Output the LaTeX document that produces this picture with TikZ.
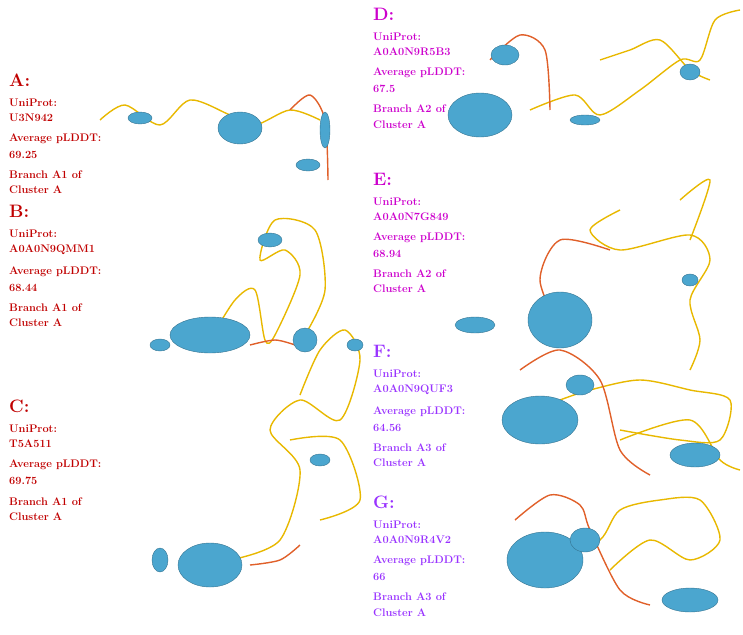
\documentclass[tikz,border=0pt]{standalone}
\usepackage{tikz}
\usetikzlibrary{positioning}
\definecolor{redlab}{HTML}{C00000}
\definecolor{maglab}{HTML}{CC00CC}
\definecolor{purlab}{HTML}{9933FF}
\definecolor{helix}{HTML}{4BA6CF}
\definecolor{loopc}{HTML}{E8B800}
\definecolor{hot}{HTML}{E0602A}
\tikzset{
  letter/.style={anchor=west, font=\bfseries\fontsize{18}{19}\selectfont, inner sep=0pt},
  info/.style={font=\bfseries\fontsize{11}{12}\selectfont, inner sep=0pt, below=12pt of #1.south west, anchor=north west},
  info2/.style={font=\bfseries\fontsize{11}{12}\selectfont, inner sep=0pt, below=7pt of #1.south west, anchor=north west},
  coil/.style={draw=loopc, line width=1.4pt},
  hlx/.style={fill=helix, draw=helix!70!black, line width=0.4pt},
  hotc/.style={draw=hot, line width=1.4pt}
}
\newcommand{\entry}[9]{%
  \node[letter, text=#9] (#1) at (#2,#3) {#4:};
  \node[info=#1, text=#9] (#1u) {UniProt:};
  \node[info2=#1u, text=#9] (#1id) {#5};
  \node[info=#1id, text=#9] (#1a) {Average pLDDT:};
  \node[info2=#1a, text=#9] (#1v) {#6};
  \node[info=#1v, text=#9] (#1b) {#7};
  \node[info2=#1b, text=#9] (#1c) {#8};
}
\begin{document}
\begin{tikzpicture}[x=1pt,y=-1pt]
  \useasboundingbox (0,0) rectangle (743,634);
  % labels
  \entry{A}{9}{80}{A}{U3N942}{69.25}{Branch A1 of}{Cluster A}{redlab}
  \entry{B}{9}{211}{B}{A0A0N9QMM1}{68.44}{Branch A1 of}{Cluster A}{redlab}
  \entry{C}{9}{406}{C}{T5A511}{69.75}{Branch A1 of}{Cluster A}{redlab}
  \entry{D}{373}{14}{D}{A0A0N9R5B3}{67.5}{Branch A2 of}{Cluster A}{maglab}
  \entry{E}{373}{179}{E}{A0A0N7G849}{68.94}{Branch A2 of}{Cluster A}{maglab}
  \entry{F}{373}{351}{F}{A0A0N9QUF3}{64.56}{Branch A3 of}{Cluster A}{purlab}
  \entry{G}{373}{502}{G}{A0A0N9R4V2}{66}{Branch A3 of}{Cluster A}{purlab}
  % A
  \draw[coil] plot[smooth] coordinates {(100,120) (125,105) (160,125) (190,100) (230,115) (255,125) (290,110) (320,120)};
  \draw[hotc] plot[smooth] coordinates {(290,110) (310,95) (325,120) (328,180)};
  \fill[hlx] (240,128) ellipse (22 and 16);
  \fill[hlx,rotate around={90:(325,130)}] (325,130) ellipse (18 and 5);
  \fill[hlx] (308,165) ellipse (12 and 6);
  \fill[hlx] (140,118) ellipse (12 and 6);
  % B
  \draw[coil] plot[smooth] coordinates {(210,340) (235,300) (255,290) (265,340) (275,335) (300,275) (285,250) (260,260) (275,220) (315,230) (325,290) (305,335)};
  \draw[hotc] plot[smooth] coordinates {(250,345) (275,340) (295,345)};
  \fill[hlx] (210,335) ellipse (40 and 18);
  \fill[hlx] (270,240) ellipse (12 and 7);
  \fill[hlx] (305,340) ellipse (12 and 12);
  \fill[hlx] (160,345) ellipse (10 and 6);
  % C
  \draw[coil] plot[smooth] coordinates {(230,560) (280,540) (300,470) (270,430) (300,400) (340,420) (360,360) (345,330) (320,350) (300,395)};
  \draw[coil] plot[smooth] coordinates {(290,440) (340,440) (360,500) (320,520)};
  \draw[hotc] plot[smooth] coordinates {(250,565) (280,560) (300,545)};
  \fill[hlx] (210,565) ellipse (32 and 22);
  \fill[hlx] (320,460) ellipse (10 and 6);
  \fill[hlx] (160,560) ellipse (8 and 12);
  \fill[hlx] (355,345) ellipse (8 and 6);
  % D
  \draw[coil] plot[smooth] coordinates {(530,110) (575,95) (600,115) (640,90) (680,60) (700,60) (715,20) (740,10)};
  \draw[coil] plot[smooth] coordinates {(600,60) (630,50) (660,40) (690,70) (710,80)};
  \draw[hotc] plot[smooth] coordinates {(490,60) (520,35) (545,50) (550,110)};
  \fill[hlx] (480,115) ellipse (32 and 22);
  \fill[hlx] (505,55) ellipse (14 and 10);
  \fill[hlx] (585,120) ellipse (15 and 5);
  \fill[hlx] (690,72) ellipse (10 and 8);
  % E
  \draw[coil] plot[smooth] coordinates {(620,210) (590,230) (620,250) (690,235) (710,260) (690,300) (700,340) (690,370)};
  \draw[coil] plot[smooth] coordinates {(680,200) (710,180) (690,240)};
  \draw[hotc] plot[smooth] coordinates {(560,330) (540,280) (560,240) (610,250)};
  \fill[hlx] (560,320) ellipse (32 and 28);
  \fill[hlx] (475,325) ellipse (20 and 8);
  \fill[hlx] (690,280) ellipse (8 and 6);
  % F
  \draw[coil] plot[smooth] coordinates {(560,400) (590,390) (640,380) (690,390) (730,400) (720,440) (680,440) (620,430)};
  \draw[coil] plot[smooth] coordinates {(620,440) (690,420) (720,460) (740,470)};
  \draw[hotc] plot[smooth] coordinates {(520,370) (560,350) (600,380) (620,450) (650,475)};
  \fill[hlx] (540,420) ellipse (38 and 24);
  \fill[hlx] (580,385) ellipse (14 and 10);
  \fill[hlx] (695,455) ellipse (25 and 12);
  % G
  \draw[coil] plot[smooth] coordinates {(560,560) (600,540) (620,510) (660,500) (700,500) (720,540) (690,560) (650,540) (610,570)};
  \draw[hotc] plot[smooth] coordinates {(515,520) (550,495) (580,505) (590,530) (620,590) (650,605)};
  \fill[hlx] (545,560) ellipse (38 and 28);
  \fill[hlx] (585,540) ellipse (15 and 12);
  \fill[hlx] (690,600) ellipse (28 and 12);
\end{tikzpicture}
\end{document}
